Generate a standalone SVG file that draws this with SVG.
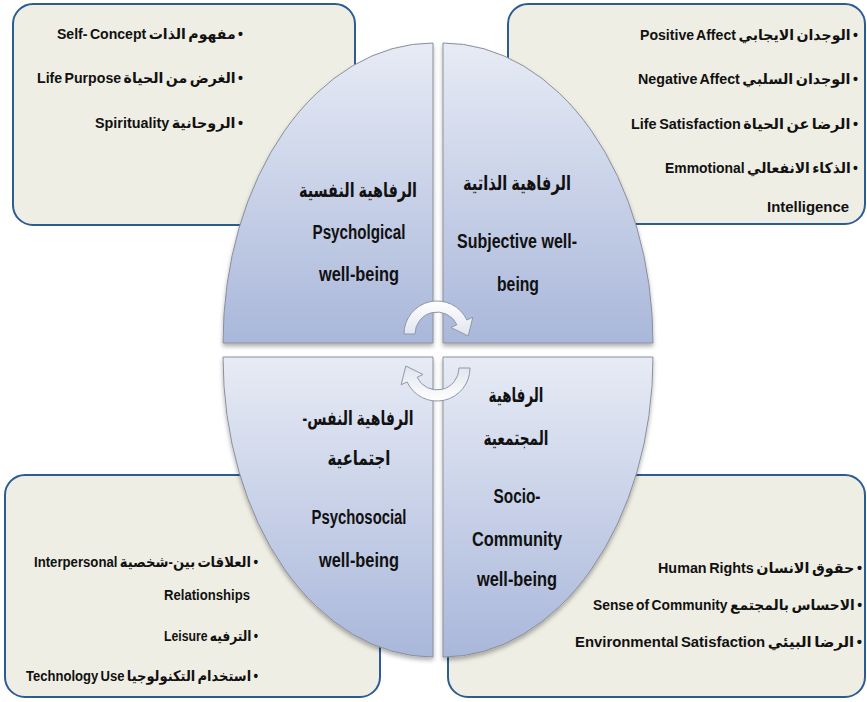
<svg xmlns="http://www.w3.org/2000/svg" width="867" height="702" viewBox="0 0 867 702">
<defs>
<style>
.box{fill:#efeee4;stroke:#2d5c93;stroke-width:2}
.quad{fill:url(#qg);stroke:#8a8f9a;stroke-width:1;filter:url(#sh)}
.arrow{fill:url(#ag);stroke:#8e98a8;stroke-width:1}
text{font-family:"Liberation Sans Narrow","Liberation Sans","DejaVu Sans",sans-serif;fill:#111;font-weight:bold}
.q{font-size:20px;text-anchor:middle}
.b{font-size:14.5px;word-spacing:-1.5px}
.rtl{direction:rtl;unicode-bidi:embed}
</style>
<linearGradient id="qg" x1="0" y1="0" x2="0" y2="1">
<stop offset="0" stop-color="#e7ebf5"/>
<stop offset="1" stop-color="#a9b7da"/>
</linearGradient>
<linearGradient id="ag" x1="0" y1="0" x2="0" y2="1">
<stop offset="0" stop-color="#ffffff"/>
<stop offset="1" stop-color="#dfe4ee"/>
</linearGradient>
<filter id="sh" x="-10%" y="-10%" width="120%" height="120%">
<feDropShadow dx="0" dy="3" stdDeviation="2" flood-color="#000" flood-opacity="0.3"/>
</filter>
</defs>

<g id="box-psychological-items">
<rect class="box" x="13" y="4" width="342" height="221" rx="20"/>
<text class="b rtl" x="243" y="39" text-anchor="start" textLength="186" lengthAdjust="spacingAndGlyphs">• مفهوم الذات Self- Concept</text>
<text class="b rtl" x="243" y="83" text-anchor="start" textLength="206" lengthAdjust="spacingAndGlyphs">• الغرض من الحياة Life Purpose</text>
<text class="b rtl" x="243" y="128" text-anchor="start" textLength="148" lengthAdjust="spacingAndGlyphs">• الروحانية Spirituality</text>
</g>

<g id="box-subjective-items">
<rect class="box" x="508" y="4" width="357" height="220" rx="20"/>
<text class="b rtl" x="858" y="40" text-anchor="start" textLength="218" lengthAdjust="spacingAndGlyphs">• الوجدان الايجابي Positive Affect</text>
<text class="b rtl" x="858" y="84" text-anchor="start" textLength="220" lengthAdjust="spacingAndGlyphs">• الوجدان السلبي Negative Affect</text>
<text class="b rtl" x="858" y="129" text-anchor="start" textLength="227" lengthAdjust="spacingAndGlyphs">• الرضا عن الحياة Life Satisfaction</text>
<text class="b rtl" x="858" y="173" text-anchor="start" textLength="193" lengthAdjust="spacingAndGlyphs">• الذكاء الانفعالي  Emmotional</text>
<text class="b" x="849" y="212" text-anchor="end" textLength="82" lengthAdjust="spacingAndGlyphs">Intelligence</text>
</g>

<g id="box-psychosocial-items">
<rect class="box" x="5" y="475" width="375" height="222" rx="20"/>
<text class="b rtl" x="258" y="567" text-anchor="start" textLength="224" lengthAdjust="spacingAndGlyphs">• العلاقات بين-شخصية Interpersonal</text>
<text class="b" x="250" y="600" text-anchor="end" textLength="86" lengthAdjust="spacingAndGlyphs">Relationships</text>
<text class="b rtl" x="258" y="641" text-anchor="start" textLength="94" lengthAdjust="spacingAndGlyphs">• الترفيه Leisure</text>
<text class="b rtl" x="258" y="681" text-anchor="start" textLength="232" lengthAdjust="spacingAndGlyphs">• استخدام التكنولوجيا Technology Use</text>
</g>

<g id="box-community-items">
<rect class="box" x="448" y="475" width="417" height="222" rx="20"/>
<text class="b rtl" x="862" y="573" text-anchor="start" textLength="204" lengthAdjust="spacingAndGlyphs">• حقوق الانسان Human Rights</text>
<text class="b rtl" x="862" y="610" text-anchor="start" textLength="269" lengthAdjust="spacingAndGlyphs">• الاحساس بالمجتمع Sense of Community</text>
<text class="b rtl" x="862" y="647" text-anchor="start" textLength="287" lengthAdjust="spacingAndGlyphs">• الرضا البيئي Environmental Satisfaction</text>
</g>

<g id="quad-psychological">
<path class="quad" d="M433 343 L433 43 A210 300 0 0 0 223 343 Z"/>
<text class="q rtl" x="358" y="197" textLength="118" lengthAdjust="spacingAndGlyphs">الرفاهية النفسية</text>
<text class="q" x="359" y="239" textLength="93" lengthAdjust="spacingAndGlyphs">Psycholgical</text>
<text class="q" x="359" y="281" textLength="80" lengthAdjust="spacingAndGlyphs">well-being</text>
</g>

<g id="quad-subjective">
<path class="quad" d="M443 343 L443 43 A210 300 0 0 1 653 343 Z"/>
<text class="q rtl" x="517" y="190" textLength="108" lengthAdjust="spacingAndGlyphs">الرفاهية الذاتية</text>
<text class="q" x="517" y="248" textLength="120" lengthAdjust="spacingAndGlyphs">Subjective well-</text>
<text class="q" x="518" y="291" textLength="42" lengthAdjust="spacingAndGlyphs">being</text>
</g>

<g id="quad-psychosocial">
<path class="quad" d="M433 357 L223 357 A210 300 0 0 0 433 657 Z"/>
<text class="q rtl" x="358" y="425" textLength="111" lengthAdjust="spacingAndGlyphs">الرفاهية النفس-</text>
<text class="q rtl" x="359" y="465" textLength="63" lengthAdjust="spacingAndGlyphs">اجتماعية</text>
<text class="q" x="359" y="524" textLength="95" lengthAdjust="spacingAndGlyphs">Psychosocial</text>
<text class="q" x="359" y="567" textLength="80" lengthAdjust="spacingAndGlyphs">well-being</text>
</g>

<g id="quad-community">
<path class="quad" d="M443 357 L653 357 A210 300 0 0 1 443 657 Z"/>
<text class="q rtl" x="516" y="402" textLength="55" lengthAdjust="spacingAndGlyphs">الرفاهية</text>
<text class="q rtl" x="516" y="445" textLength="65" lengthAdjust="spacingAndGlyphs">المجتمعية</text>
<text class="q" x="517" y="503" textLength="47" lengthAdjust="spacingAndGlyphs">Socio-</text>
<text class="q" x="517" y="546" textLength="90" lengthAdjust="spacingAndGlyphs">Community</text>
<text class="q" x="517" y="586" textLength="80" lengthAdjust="spacingAndGlyphs">well-being</text>
</g>

<g id="connectors">
<path class="arrow" d="M404 334 A33 33 0 0 1 466.9 320 L472.8 317.3 L468.2 336 L451 327.5 L456.9 324.7 A22 22 0 0 0 415 334 Z"/>
<path class="arrow" transform="rotate(180 437 351)" d="M404 334 A33 33 0 0 1 466.9 320 L472.8 317.3 L468.2 336 L451 327.5 L456.9 324.7 A22 22 0 0 0 415 334 Z"/>
</g>
</svg>
